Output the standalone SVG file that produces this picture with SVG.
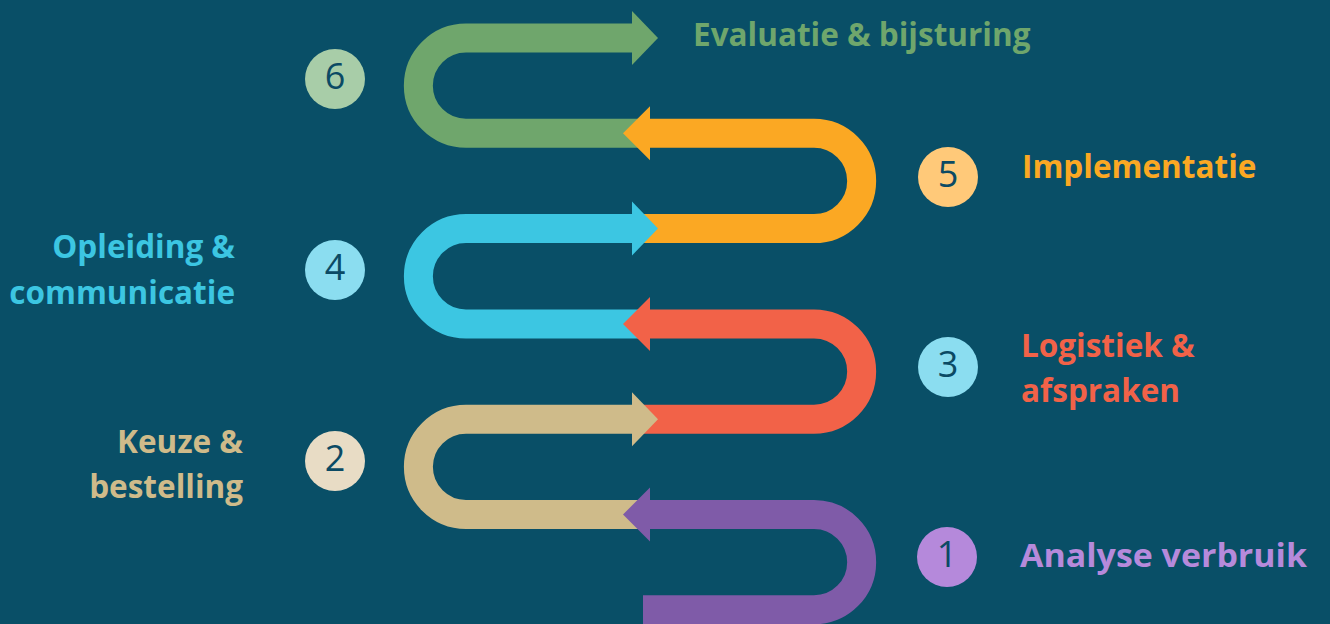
<svg xmlns="http://www.w3.org/2000/svg" width="1330" height="624" viewBox="0 0 1330 624">
  <style>
    .band { fill: none; stroke-width: 29; stroke-linecap: butt; }
    .lbl { font-family: "Open Sans", "Noto Sans", sans-serif; font-weight: 700; font-size: 31.5px; }
    .num { font-family: "Open Sans", "Noto Sans", sans-serif; font-weight: 400; font-size: 36px; fill: #0B4A64; text-anchor: middle; }
    .end { text-anchor: end; }
  </style>
  <rect x="0" y="0" width="1330" height="624" fill="#094F67"/>
  <g id="connectors">
    <g id="arrow6">
      <path class="band" stroke="#6FA66C" d="M645 133.3 H466 A47.65 47.65 0 0 1 466 38 H633"/>
      <polygon fill="#6FA66C" points="632,11 658,38 632,65"/>
    </g>
    <g id="arrow5">
      <path class="band" stroke="#FBA823" d="M640 228.6 H814 A47.65 47.65 0 0 0 814 133.3 H649"/>
      <polygon fill="#FBA823" points="650,106.3 623,133.3 650,160.3"/>
    </g>
    <g id="arrow4">
      <path class="band" stroke="#3CC6E2" d="M645 323.9 H466 A47.65 47.65 0 0 1 466 228.6 H633"/>
      <polygon fill="#3CC6E2" points="632,201.6 658,228.6 632,255.6"/>
    </g>
    <g id="arrow3">
      <path class="band" stroke="#F26248" d="M640 419.2 H814 A47.65 47.65 0 0 0 814 323.9 H649"/>
      <polygon fill="#F26248" points="650,296.9 623,323.9 650,350.9"/>
    </g>
    <g id="arrow2">
      <path class="band" stroke="#CFBB8A" d="M645 514.5 H466 A47.65 47.65 0 0 1 466 419.2 H633"/>
      <polygon fill="#CFBB8A" points="632,392.2 658,419.2 632,446.2"/>
    </g>
    <g id="arrow1">
      <path class="band" stroke="#7F5BA8" d="M643 609.8 H814 A47.65 47.65 0 0 0 814 514.5 H649"/>
      <polygon fill="#7F5BA8" points="650,487.5 623,514.5 650,541.5"/>
    </g>
  </g>
  <g id="step1">
    <circle cx="947" cy="557" r="30" fill="#B589DB"/>
    <text class="num" x="947" y="567">1</text>
    <text class="lbl" x="1020" y="567" fill="#B68ADB" textLength="287" lengthAdjust="spacingAndGlyphs">Analyse verbruik</text>
  </g>
  <g id="step2">
    <circle cx="335" cy="461" r="30" fill="#E8DCC5"/>
    <text class="num" x="335" y="471">2</text>
    <text class="lbl end" x="243" y="453" fill="#CFBB8A">Keuze &amp;</text>
    <text class="lbl end" x="243" y="498" fill="#CFBB8A">bestelling</text>
  </g>
  <g id="step3">
    <circle cx="948" cy="367" r="30" fill="#8BDDF0"/>
    <text class="num" x="948" y="377">3</text>
    <text class="lbl" x="1021" y="357" fill="#F26248">Logistiek &amp;</text>
    <text class="lbl" x="1021" y="402" fill="#F26248">afspraken</text>
  </g>
  <g id="step4">
    <circle cx="335" cy="270" r="30" fill="#8BDDF0"/>
    <text class="num" x="335" y="280">4</text>
    <text class="lbl end" x="235" y="258" fill="#3CC6E2">Opleiding &amp;</text>
    <text class="lbl end" x="235" y="304" fill="#3CC6E2">communicatie</text>
  </g>
  <g id="step5">
    <circle cx="948" cy="177" r="30" fill="#FFC979"/>
    <text class="num" x="948" y="187">5</text>
    <text class="lbl" x="1022" y="178" fill="#FBA823">Implementatie</text>
  </g>
  <g id="step6">
    <circle cx="335" cy="79" r="30" fill="#A8CDA8"/>
    <text class="num" x="335" y="89">6</text>
    <text class="lbl" x="693" y="46" fill="#6FA66C">Evaluatie &amp; bijsturing</text>
  </g>
</svg>
